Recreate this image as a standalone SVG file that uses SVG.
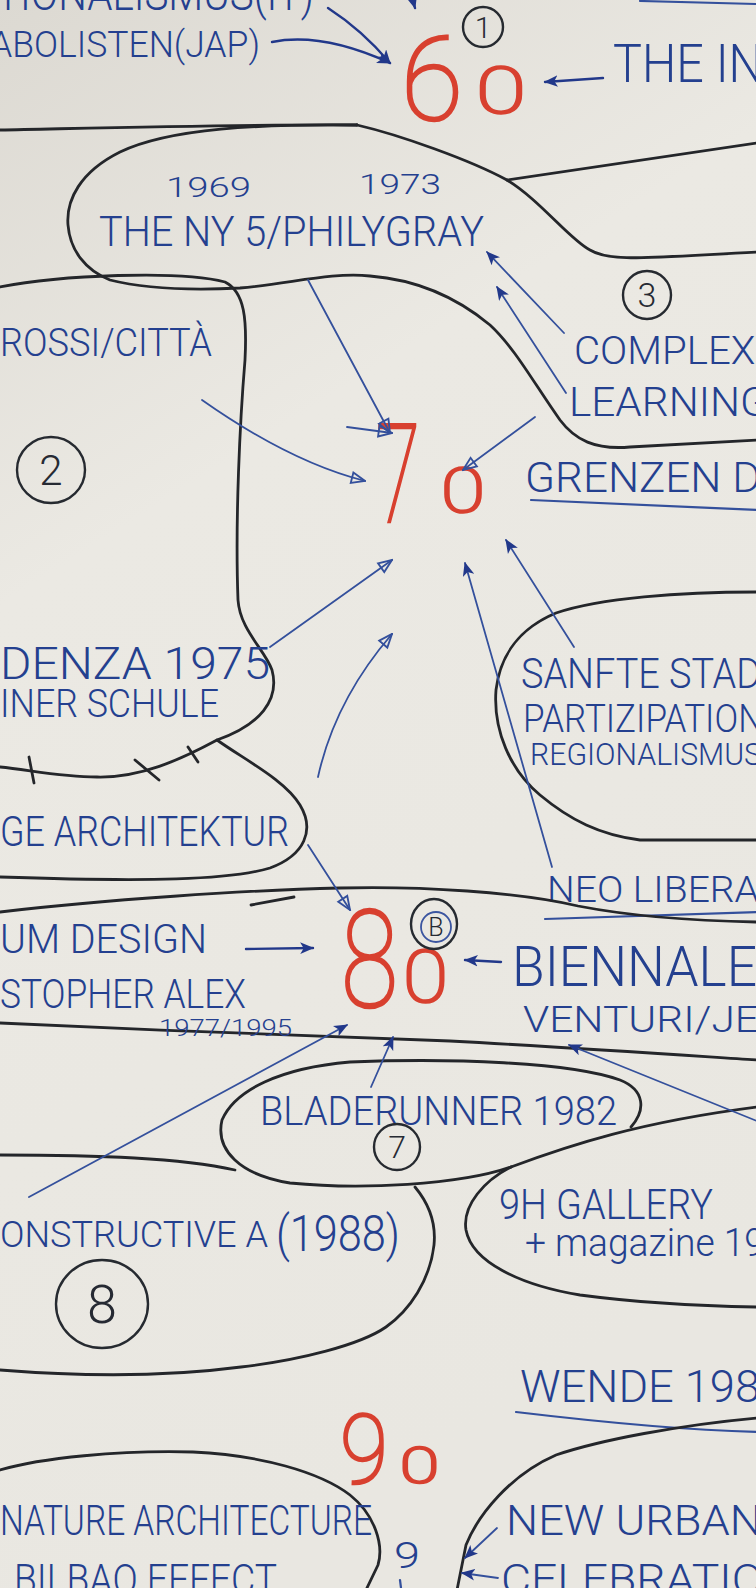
<svg xmlns="http://www.w3.org/2000/svg" width="756" height="1588" viewBox="0 0 756 1588">
<defs>
<linearGradient id="bg" x1="0" y1="0" x2="0.3" y2="1">
<stop offset="0" stop-color="#dcd9d2"/>
<stop offset="0.35" stop-color="#ebe9e3"/>
<stop offset="1" stop-color="#e9e7e1"/>
</linearGradient>
<marker id="hf" viewBox="0 0 12 10" refX="11" refY="5" markerWidth="14" markerHeight="12" markerUnits="userSpaceOnUse" orient="auto"><path d="M0,0 L12,5 L0,10 L3,5 z" fill="#22388a"/></marker>
<marker id="ho" viewBox="0 0 12 10" refX="11" refY="5" markerWidth="16" markerHeight="14" markerUnits="userSpaceOnUse" orient="auto"><path d="M1,1 L11,5 L1,9 z" fill="none" stroke="#34509c" stroke-width="1.4"/></marker>
<style>
.t{font-family:Roboto,"Liberation Sans",sans-serif;font-weight:300;fill:#24408f}
.r{font-family:Roboto,"Liberation Sans",sans-serif;font-weight:100;fill:#d8402f;stroke:#d8402f;stroke-width:2.6}
.n{font-family:Roboto,"Liberation Sans",sans-serif;font-weight:300;fill:#262a33;text-anchor:middle}
.o{fill:none;stroke:#24262a;stroke-width:2.8;stroke-linecap:round;stroke-linejoin:round}
.c{fill:none;stroke:#262a30;stroke-width:2.4}
.a{fill:none;stroke:#34509c;stroke-width:1.8;stroke-linecap:round}
.ad{fill:none;stroke:#22388a;stroke-width:2.4;stroke-linecap:round}
.u{fill:none;stroke:#34509c;stroke-width:2.2;stroke-linecap:round}
</style>
</defs>
<rect width="756" height="1588" fill="url(#bg)"/>

<g id="node-60s">
<text class="t" x="-4" y="10" font-size="46" textLength="318" lengthAdjust="spacingAndGlyphs">TIONALISMUS(IT)</text>
<text class="t" x="-10" y="57" font-size="36" textLength="270" lengthAdjust="spacingAndGlyphs">ABOLISTEN(JAP)</text>
<circle class="c" cx="483" cy="27" r="20" stroke="#23365f"/>
<text class="n" x="483" y="38" font-size="30" fill="#23365f">1</text>
<text class="r" x="401" y="120" font-size="117" textLength="62" lengthAdjust="spacingAndGlyphs">6</text>
<text class="r" x="476" y="113" font-size="65" textLength="50" lengthAdjust="spacingAndGlyphs">0</text>
<text class="t" x="613" y="82" font-size="54" textLength="150" lengthAdjust="spacingAndGlyphs">THE IN</text>
<path class="u" d="M640,1 L756,4"/>
</g>

<g id="node-ny5">
<path class="o" d="M0,130 C100,128 250,124 357,125"/>
<path class="o" d="M357,125 C260,124 170,128 120,152 C80,172 66,200 68,225 C70,250 85,270 110,280 C150,290 200,290 240,288 C290,284 330,272 370,276 C420,280 460,300 490,325 C515,348 535,385 560,420 C575,440 595,450 630,447 L757,440"/>
<path class="o" d="M357,125 C400,135 470,160 507,180 C540,200 570,240 590,250 C610,262 640,258 757,252"/>
<path class="o" d="M507,180 C560,172 640,160 757,143"/>
<text class="t" x="166" y="197" font-size="28" textLength="85" lengthAdjust="spacingAndGlyphs">1969</text>
<text class="t" x="359" y="194" font-size="28" textLength="82" lengthAdjust="spacingAndGlyphs">1973</text>
<text class="t" x="99" y="246" font-size="42" textLength="385" lengthAdjust="spacingAndGlyphs">THE NY 5/PHILYGRAY</text>
</g>

<g id="node-3">
<circle class="c" cx="647" cy="295" r="24"/>
<text class="n" x="647" y="307" font-size="34">3</text>
<text class="t" x="574" y="364" font-size="39" textLength="192" lengthAdjust="spacingAndGlyphs">COMPLEXI</text>
<text class="t" x="569" y="416" font-size="40" textLength="200" lengthAdjust="spacingAndGlyphs">LEARNING</text>
</g>

<g id="node-2">
<path class="o" d="M0,287 C60,275 180,270 225,282 C245,292 247,320 245,360 C240,420 235,520 238,600 C240,630 265,650 272,670 C280,700 260,725 217,740 C180,760 140,778 97,777 C60,777 30,770 0,767"/>
<path class="o" d="M29,757 L34,783 M135,760 L159,780 M188,747 L198,762"/>
<ellipse class="c" cx="51" cy="470" rx="34" ry="33"/>
<text class="n" x="51" y="485" font-size="42">2</text>
<text class="t" x="0" y="356" font-size="38" textLength="212" lengthAdjust="spacingAndGlyphs">ROSSI/CITTÀ</text>
<text class="t" x="0" y="679" font-size="44" textLength="270" lengthAdjust="spacingAndGlyphs">DENZA 1975</text>
<text class="t" x="0" y="717" font-size="38" textLength="219" lengthAdjust="spacingAndGlyphs">INER SCHULE</text>
</g>

<g id="node-70">
<text class="r" x="376" y="522" font-size="138" textLength="44" lengthAdjust="spacingAndGlyphs">7</text>
<text class="r" x="441" y="512" font-size="62" textLength="44" lengthAdjust="spacingAndGlyphs">0</text>
<text class="t" x="525" y="492" font-size="42" textLength="236" lengthAdjust="spacingAndGlyphs">GRENZEN D</text>
<path class="u" d="M531,500 L757,510"/>
</g>

<g id="node-4">
<path class="o" d="M757,592 C680,592 600,598 556,613 C520,628 500,655 496,690 C493,730 510,770 540,795 C570,820 600,835 640,840 L757,840"/>
<text class="t" x="521" y="688" font-size="42" textLength="240" lengthAdjust="spacingAndGlyphs">SANFTE STAD</text>
<text class="t" x="523" y="732" font-size="38" textLength="240" lengthAdjust="spacingAndGlyphs">PARTIZIPATION</text>
<text class="t" x="530" y="765" font-size="32" textLength="232" lengthAdjust="spacingAndGlyphs">REGIONALISMUS</text>
</g>

<g id="node-ge">
<path class="o" d="M217,740 C245,760 285,780 300,805 C315,830 305,855 270,868 C230,880 150,882 0,877"/>
<text class="t" x="0" y="846" font-size="42" textLength="289" lengthAdjust="spacingAndGlyphs">GE ARCHITEKTUR</text>
</g>

<g id="node-neolib">
<text class="t" x="547" y="902" font-size="36" textLength="212" lengthAdjust="spacingAndGlyphs">NEO LIBERA</text>
<path class="u" d="M545,919 L757,912"/>
</g>

<g id="node-80">
<path class="o" d="M0,912 C100,900 250,890 340,888 C420,886 520,892 578,906 C640,918 700,921 757,922"/>
<path class="o" d="M251,905 L294,897"/>
<path class="o" d="M0,1023 C150,1030 350,1038 450,1041 C580,1048 680,1055 757,1060"/>
<text class="r" x="341" y="1007" font-size="136" textLength="57" lengthAdjust="spacingAndGlyphs">8</text>
<text class="r" x="403" y="1002" font-size="72" textLength="45" lengthAdjust="spacingAndGlyphs">0</text>
<ellipse class="c" cx="434" cy="924" rx="23" ry="25"/>
<circle cx="436" cy="927" r="15" fill="none" stroke="#3b55a0" stroke-width="1.8"/>
<text class="n" x="436" y="936" font-size="25" fill="#262a40">B</text>
<text class="t" x="0" y="953" font-size="40" textLength="207" lengthAdjust="spacingAndGlyphs">UM DESIGN</text>
<text class="t" x="0" y="1008" font-size="40" textLength="246" lengthAdjust="spacingAndGlyphs">STOPHER ALEX</text>
<text class="t" x="159" y="1036" font-size="24" textLength="133" lengthAdjust="spacingAndGlyphs">1977/1995</text>
<text class="t" x="512" y="986" font-size="56" textLength="245" lengthAdjust="spacingAndGlyphs">BIENNALE</text>
<text class="t" x="523" y="1032" font-size="36" textLength="236" lengthAdjust="spacingAndGlyphs">VENTURI/JE</text>
</g>

<g id="node-7">
<path class="o" d="M631,1127 C646,1110 645,1090 620,1080 C570,1062 450,1058 350,1062 C280,1068 235,1090 222,1120 C215,1150 240,1175 290,1183 C360,1190 460,1185 511,1167"/>
<text class="t" x="260" y="1125" font-size="40" textLength="357" lengthAdjust="spacingAndGlyphs">BLADERUNNER 1982</text>
<circle class="c" cx="397" cy="1147" r="23"/>
<text class="n" x="397" y="1158" font-size="32">7</text>
</g>

<g id="node-8">
<path class="o" d="M0,1155 C100,1155 180,1158 235,1170"/>
<path class="o" d="M415,1187 C430,1205 436,1225 434,1245 C430,1280 410,1310 386,1327 C360,1345 300,1360 241,1367 C180,1375 100,1378 0,1370"/>
<text class="t" x="0" y="1247" font-size="36" textLength="268" lengthAdjust="spacingAndGlyphs">ONSTRUCTIVE A</text>
<text class="t" x="276" y="1251" font-size="50" textLength="124" lengthAdjust="spacingAndGlyphs">(1988)</text>
<ellipse class="c" cx="102" cy="1304" rx="46" ry="44"/>
<text class="n" x="102" y="1323" font-size="54">8</text>
</g>

<g id="node-9">
<path class="o" d="M511,1167 C570,1145 640,1122 757,1107"/>
<path class="o" d="M511,1167 C485,1180 462,1205 466,1230 C472,1262 520,1285 580,1295 C640,1303 700,1306 757,1307"/>
<text class="t" x="499" y="1219" font-size="42" textLength="214" lengthAdjust="spacingAndGlyphs">9H GALLERY</text>
<text class="t" x="525" y="1256" font-size="38" textLength="240" lengthAdjust="spacingAndGlyphs">+ magazine 19</text>
</g>

<g id="node-90">
<text class="r" x="340" y="1483" font-size="96" textLength="48" lengthAdjust="spacingAndGlyphs">9</text>
<text class="r" x="400" y="1483" font-size="50" textLength="39" lengthAdjust="spacingAndGlyphs">0</text>
<text class="t" x="520" y="1402" font-size="44" textLength="240" lengthAdjust="spacingAndGlyphs">WENDE 198</text>
<path class="u" d="M516,1412 C600,1422 680,1430 757,1432"/>
<text class="t" x="394" y="1568" font-size="36" textLength="26" lengthAdjust="spacingAndGlyphs">9</text>
<path class="u" d="M400,1580 L401,1588"/>
</g>

<g id="node-signature">
<path class="o" d="M0,1470 C40,1458 120,1450 193,1452 C260,1455 320,1472 350,1495 C375,1515 384,1545 378,1565 L366,1590"/>
<text class="t" x="0" y="1535" font-size="42" textLength="372" lengthAdjust="spacingAndGlyphs">NATURE ARCHITECTURE</text>
<text class="t" x="14" y="1594" font-size="42" textLength="263" lengthAdjust="spacingAndGlyphs">BILBAO EFFECT</text>
</g>

<g id="node-newurban">
<path class="o" d="M757,1418 C680,1425 600,1440 556,1455 C510,1475 478,1515 466,1545 L457,1590"/>
<text class="t" x="506" y="1535" font-size="42" textLength="256" lengthAdjust="spacingAndGlyphs">NEW URBAN</text>
<text class="t" x="501" y="1594" font-size="42" textLength="262" lengthAdjust="spacingAndGlyphs">CELEBRATIO</text>
</g>

<g id="connectors">
<path class="ad" d="M328,8 Q362,30 390,63" marker-end="url(#hf)"/>
<path class="ad" d="M272,42 Q322,32 390,63" marker-end="url(#hf)"/>
<path class="ad" d="M411,-6 L415,8" marker-end="url(#hf)"/>
<path class="ad" d="M603,78 L545,82" marker-end="url(#hf)"/>
<path class="a" d="M564,333 L487,252" marker-end="url(#hf)"/>
<path class="a" d="M566,393 L497,287" marker-end="url(#hf)"/>
<path class="a" d="M308,280 L390,433" marker-end="url(#ho)"/>
<path class="a" d="M347,427 L392,433" marker-end="url(#ho)"/>
<path class="a" d="M202,400 Q290,462 365,481" marker-end="url(#ho)"/>
<path class="a" d="M535,417 L463,470" marker-end="url(#ho)"/>
<path class="a" d="M270,647 L392,560" marker-end="url(#ho)"/>
<path class="a" d="M318,777 Q335,700 392,634" marker-end="url(#ho)"/>
<path class="a" d="M552,867 L465,563" marker-end="url(#hf)"/>
<path class="a" d="M574,647 L506,540" marker-end="url(#hf)"/>
<path class="a" d="M308,845 L350,910" marker-end="url(#ho)"/>
<path class="ad" d="M246,949 L313,948" marker-end="url(#hf)"/>
<path class="ad" d="M501,962 L465,960" marker-end="url(#hf)"/>
<path class="a" d="M29,1197 L347,1025" marker-end="url(#hf)"/>
<path class="a" d="M371,1087 L393,1037" marker-end="url(#hf)"/>
<path class="a" d="M757,1121 L569,1045" marker-end="url(#hf)"/>
<path class="a" d="M497,1528 L465,1558" marker-end="url(#hf)"/>
<path class="a" d="M498,1578 L462,1573" marker-end="url(#hf)"/>
</g>
</svg>
